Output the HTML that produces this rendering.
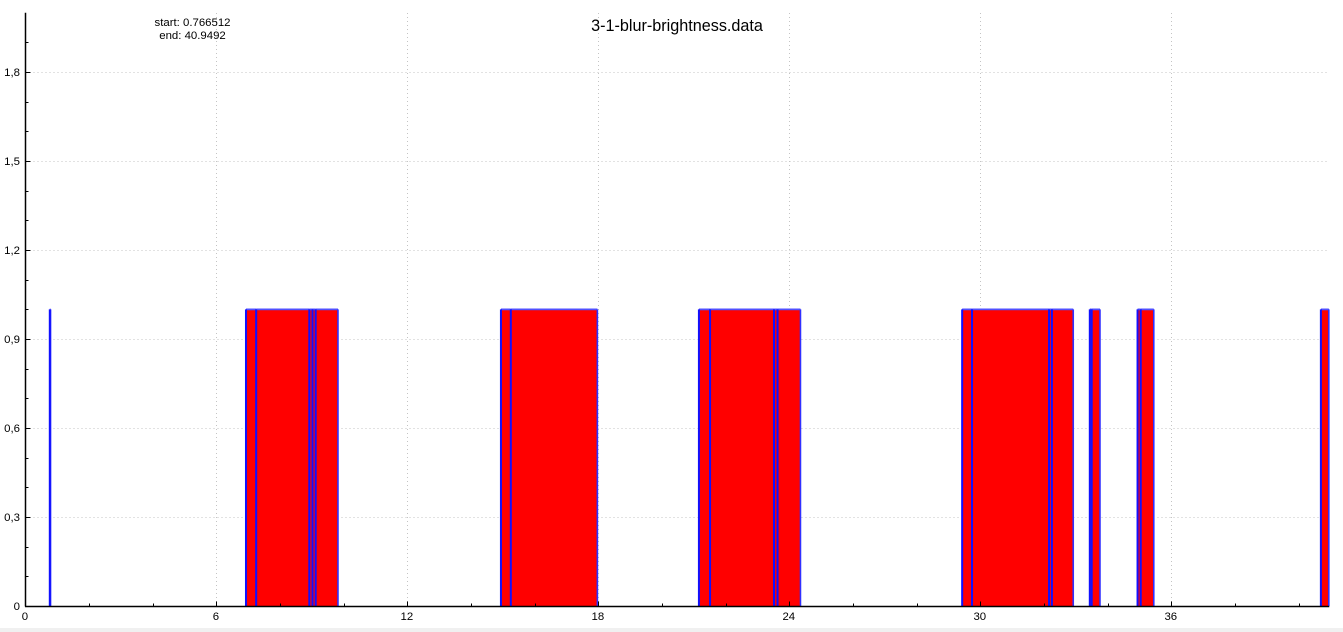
<!DOCTYPE html>
<html lang="en">
<head>
<meta charset="utf-8">
<title>3-1-blur-brightness.data</title>
<style>
html,body{margin:0;padding:0;background:#fff;width:1343px;height:632px;overflow:hidden}
svg{display:block}
text{font-family:"Liberation Sans",Arial,sans-serif;fill:#000}
</style>
</head>
<body>
<svg id="chart" width="1343" height="632" viewBox="0 0 1343 632">
<rect x="0" y="0" width="1343" height="632" fill="#ffffff"/>
<rect x="0" y="628" width="1343" height="4" fill="#f0f0f0"/>
<g id="grid"></g>
<g id="bars"></g>
<g id="axes"></g>
<text x="677" y="31" font-size="16.2" text-anchor="middle">3-1-blur-brightness.data</text>
<text x="192.5" y="26" font-size="11.4" text-anchor="middle">start: 0.766512</text>
<text x="192.5" y="39" font-size="11.4" text-anchor="middle">end: 40.9492</text>
</svg>
<script>
const segmentStarts = [0.7665, 6.93, 7.25, 8.92, 9.02, 9.12, 14.94, 15.25, 21.16, 21.51, 23.52, 23.63, 29.43, 29.74, 32.16, 32.25, 33.44, 33.5, 34.94, 35.04, 40.7];
const segmentEnds = [0.79, 7.25, 8.92, 9.02, 9.12, 9.82, 15.25, 17.97, 21.51, 23.52, 23.63, 24.35, 29.74, 32.16, 32.25, 32.92, 33.5, 33.76, 35.04, 35.45, 40.9492];
const segmentValues = [1, 1, 1, 1, 1, 1, 1, 1, 1, 1, 1, 1, 1, 1, 1, 1, 1, 1, 1, 1, 1];
const xTicks = [0, 6, 12, 18, 24, 30, 36];
const xTickLabels = ['0', '6', '12', '18', '24', '30', '36'];
const xMinorTicks = [2, 4, 8, 10, 14, 16, 20, 22, 26, 28, 32, 34, 38, 40];
const yTicks = [0, 0.3, 0.6, 0.9, 1.2, 1.5, 1.8];
const yTickLabels = ['0', '0,3', '0,6', '0,9', '1,2', '1,5', '1,8'];
const yMinorTicks = [0.1, 0.2, 0.4, 0.5, 0.7, 0.8, 1.0, 1.1, 1.3, 1.4, 1.6, 1.7, 1.9];
const xMax = 40.9492;
const yMax = 2;

const NS = 'http://www.w3.org/2000/svg';
function xScale(v) { return 25.4 + v * 31.83; }
function yScale(v) { return 606 - v * 296.6; }
function make(tag, attrs, parent) {
  const el = document.createElementNS(NS, tag);
  for (const k in attrs) el.setAttribute(k, attrs[k]);
  parent.appendChild(el);
  return el;
}
const gridG = document.getElementById('grid');
const barsG = document.getElementById('bars');
const axesG = document.getElementById('axes');
const gridStyle = { stroke: '#c4c4c4', 'stroke-width': 1, 'stroke-dasharray': '1 3', 'shape-rendering': 'crispEdges' };

xTicks.forEach(function (t) {
  if (t === 0) return;
  const x = Math.round(xScale(t)) + 0.5;
  const line = make('line', Object.assign({ x1: x, x2: x, y1: yScale(0), y2: yScale(yMax) }, gridStyle), gridG);
  
  
});
yTicks.forEach(function (t) {
  if (t === 0) return;
  const y = Math.round(yScale(t)) + 0.5;
  const line = make('line', Object.assign({ x1: xScale(0), x2: xScale(xMax), y1: y, y2: y }, gridStyle), gridG);
  
  
});

segmentStarts.forEach(function (s, i) {
  const x0 = xScale(s);
  const x1 = xScale(segmentEnds[i]);
  const yTop = yScale(segmentValues[i]);
  const yBase = yScale(0);
  const bar = make('rect', { x: x0, y: yTop, width: x1 - x0, height: yBase - yTop, fill: '#ff0000' }, barsG);
  
  
  const top = make('line', { x1: x0, x2: x1, y1: yTop, y2: yTop, stroke: '#5050ff', 'stroke-width': 1.8 }, barsG);
  
  
  const right = make('line', { x1: x1, x2: x1, y1: yTop, y2: yBase, stroke: '#3030ff', 'stroke-width': 1.6 }, barsG);
  
  
});
segmentStarts.forEach(function (s, i) {
  const x0 = xScale(s);
  const left = make('line', { x1: x0, x2: x0, y1: yScale(segmentValues[i]), y2: yScale(0), stroke: '#1010ff', 'stroke-width': 2 }, barsG);
  
  
});

const xAxisY = yScale(0) + 0.5;
const yAxisX = 25.5;
const xAxis = make('line', { x1: yAxisX - 0.5, x2: xScale(xMax) + 0.5, y1: xAxisY, y2: xAxisY, stroke: '#000', 'stroke-width': 1.5 }, axesG);


const yAxis = make('line', { x1: yAxisX, x2: yAxisX, y1: yScale(yMax), y2: xAxisY, stroke: '#000', 'stroke-width': 1.5 }, axesG);



xTicks.forEach(function (t, i) {
  const x = Math.round(xScale(t)) + 0.5;
  const tick = make('line', { x1: x, x2: x, y1: xAxisY - 5, y2: xAxisY, stroke: '#000', 'stroke-width': 1, 'shape-rendering': 'crispEdges' }, axesG);
  
  
  const label = make('text', { x: xScale(t) - 0.5, y: 620, 'font-size': 11.4, 'text-anchor': 'middle' }, axesG);
  label.textContent = xTickLabels[i];
  
  
});
xMinorTicks.forEach(function (t) {
  const x = Math.round(xScale(t)) + 0.5;
  const tick = make('line', { x1: x, x2: x, y1: xAxisY - 3, y2: xAxisY, stroke: '#000', 'stroke-width': 1, 'shape-rendering': 'crispEdges' }, axesG);
  
  
});
yTicks.forEach(function (t, i) {
  const y = Math.round(yScale(t)) + 0.5;
  const tick = make('line', { x1: yAxisX, x2: yAxisX + 5, y1: y, y2: y, stroke: '#000', 'stroke-width': 1, 'shape-rendering': 'crispEdges' }, axesG);
  
  
  const label = make('text', { x: 20, y: yScale(t) + 4, 'font-size': 11.4, 'text-anchor': 'end' }, axesG);
  label.textContent = yTickLabels[i];
  
  
});
yMinorTicks.forEach(function (t) {
  const y = Math.round(yScale(t)) + 0.5;
  const tick = make('line', { x1: yAxisX, x2: yAxisX + 3, y1: y, y2: y, stroke: '#000', 'stroke-width': 1, 'shape-rendering': 'crispEdges' }, axesG);
  
  
});
</script>
</body>
</html>
